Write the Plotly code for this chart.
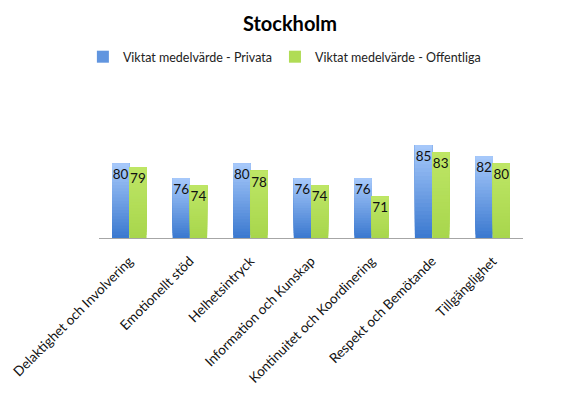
import plotly.graph_objects as go

categories = [
    "Delaktighet och Involvering",
    "Emotionellt stöd",
    "Helhetsintryck",
    "Information och Kunskap",
    "Kontinuitet och Koordinering",
    "Respekt och Bemötande",
    "Tillgänglighet",
]
privata = [80, 76, 80, 76, 76, 85, 82]
offentliga = [79, 74, 78, 74, 71, 83, 80]
series_names = ["Viktat medelvärde - Privata", "Viktat medelvärde - Offentliga"]

AXIS_MIN = 59.7
AXIS_MAX = 89.9
N_BANDS = 24
FONT = "Lato, Carlito, 'Liberation Sans', sans-serif"

# gradient colours (bottom -> top)
grad = {
    series_names[0]: ((58, 120, 207), (168, 202, 251)),
    series_names[1]: ((168, 214, 76), (190, 230, 102)),
}
legend_ids = {series_names[0]: "legend", series_names[1]: "legend2"}


def lerp(c0, c1, t):
    return "rgb(%d,%d,%d)" % tuple(round(a + (b - a) * t) for a, b in zip(c0, c1))


fig = go.Figure()
for name, vals in zip(series_names, [privata, offentliga]):
    c0, c1 = grad[name]
    for k in range(N_BANDS):
        frac0 = k / N_BANDS
        bases = [AXIS_MIN + (v - AXIS_MIN) * frac0 for v in vals]
        heights = [v - b for v, b in zip(vals, bases)]
        fig.add_trace(go.Bar(
            x=categories, y=heights, base=bases,
            offsetgroup=name, name=name,
            marker=dict(color=lerp(c0, c1, (k + 0.5) / N_BANDS), line=dict(width=0)),
            showlegend=(k == N_BANDS // 3), legendgroup=name,
            legend=legend_ids[name],
            hoverinfo="skip",
        ))
    # labels
    fig.add_trace(go.Bar(
        x=categories, y=vals, offsetgroup=name, name=name,
        marker=dict(color="rgba(0,0,0,0)", line=dict(width=0)),
        text=[str(v) for v in vals], textposition="inside", insidetextanchor="end",
        constraintext="none",
        textfont=dict(family=FONT, size=13.5, color="#111111"),
        showlegend=False, legendgroup=name, legend=legend_ids[name],
    ))

legend_common = dict(orientation="h", yanchor="middle", y=1.63, xanchor="left",
                     font=dict(family=FONT, size=12.5, color="#222222"),
                     itemwidth=30, bgcolor="rgba(0,0,0,0)")

fig.update_layout(
    width=580, height=396,
    margin=dict(l=91, r=65, t=119, b=166, autoexpand=False),
    paper_bgcolor="white", plot_bgcolor="white",
    barmode="group", bargap=0.43, bargroupgap=0,
    font=dict(family=FONT, size=13, color="#111111"),
    title=dict(text="<b>Stockholm</b>", x=282 / 580, xref="container", xanchor="center",
               y=1 - 16 / 396, yref="container", yanchor="middle",
               font=dict(family=FONT, size=20, color="#000000")),
    legend=dict(x=-0.038, **legend_common),
    legend2=dict(x=0.415, **legend_common),
    xaxis=dict(showline=True, linecolor="#a6a6a6", linewidth=1, ticks="",
               tickangle=-45, tickfont=dict(family=FONT, size=13.5, color="#111111"),
               ticklabelstandoff=9,
               showgrid=False, zeroline=False, automargin=False),
    yaxis=dict(range=[AXIS_MIN, AXIS_MAX], showticklabels=False, showgrid=False,
               zeroline=False, showline=False, ticks="", automargin=False),
)

fig.write_html("out.html")
